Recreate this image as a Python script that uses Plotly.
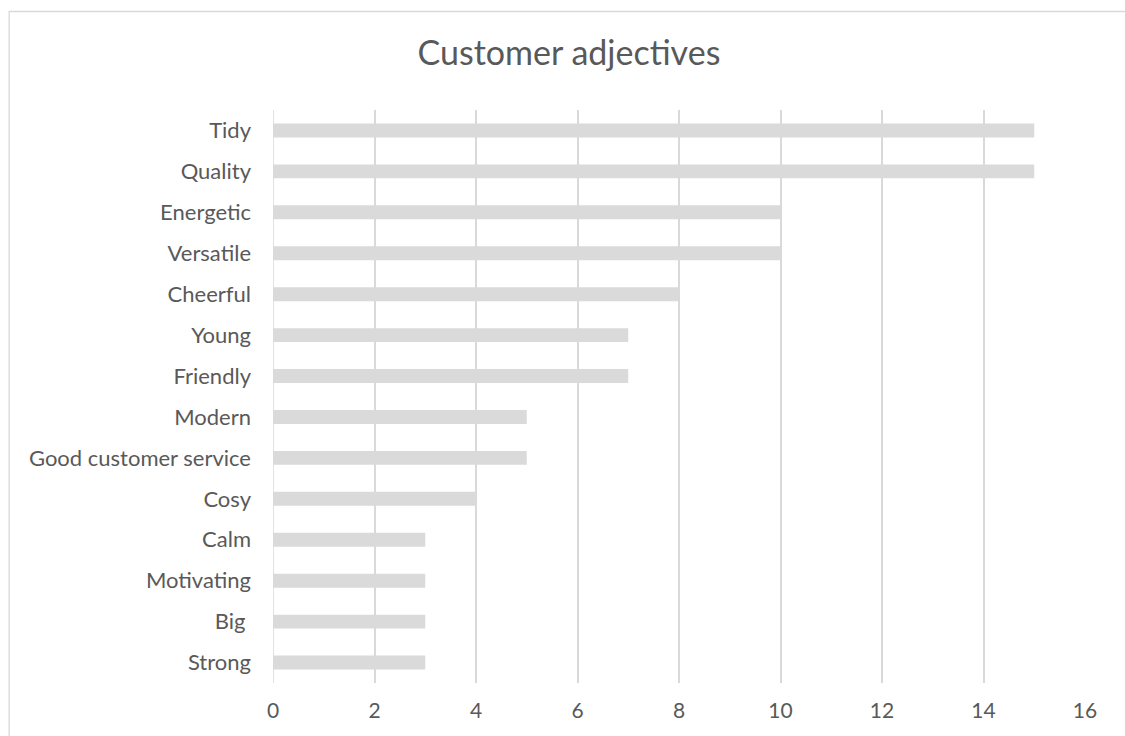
import plotly.graph_objects as go

# Survey results: how customers describe the shop
adjectives = [
    "Tidy", "Quality", "Energetic", "Versatile", "Cheerful", "Young", "Friendly",
    "Modern", "Good customer service", "Cosy", "Calm", "Motivating", "Big ", "Strong",
]
mentions = [15, 15, 10, 10, 8, 7, 7, 5, 5, 4, 3, 3, 3, 3]
x_ticks = [0, 2, 4, 6, 8, 10, 12, 14, 16]

TEXT = "#595959"
GRID = "#d9d9d9"
FONT = "Lato, 'Open Sans', sans-serif"

fig = go.Figure(
    go.Bar(
        x=mentions,
        y=adjectives,
        orientation="h",
        marker=dict(color="#dadada", line=dict(width=0)),
        width=0.34,
        hoverinfo="x+y",
    )
)

W, H = 1125, 736
ml, mr, mt, mb = 272.5, 40, 110, 53
pw, ph = W - ml - mr, H - mt - mb


def px_to_paper_x(p):
    return (p - ml) / pw


def px_to_paper_y(p):
    return (H - mb - p) / ph


fig.update_layout(
    width=W,
    height=H,
    margin=dict(l=ml, r=mr, t=mt, b=mb, pad=0),
    paper_bgcolor="white",
    plot_bgcolor="white",
    showlegend=False,
    font=dict(family=FONT, color=TEXT, size=22),
    title=dict(
        text="Customer adjectives",
        x=569 / W,
        xanchor="center",
        xref="container",
        y=1 - 53 / H,
        yanchor="middle",
        font=dict(size=34, color=TEXT, family=FONT),
    ),
    xaxis=dict(
        range=[0, 16],
        tickvals=x_ticks,
        showgrid=True,
        gridcolor=GRID,
        gridwidth=1.5,
        zeroline=False,
        showline=False,
        ticks="",
        ticklabelstandoff=13,
        tickfont=dict(size=21, color=TEXT),
        fixedrange=True,
    ),
    yaxis=dict(
        categoryorder="array",
        categoryarray=adjectives,
        autorange="reversed",
        showgrid=False,
        zeroline=False,
        showline=False,
        ticks="",
        ticklabelstandoff=21,
        tickfont=dict(size=22, color=TEXT),
        fixedrange=True,
    ),
    shapes=[
        # chart frame (runs off the right and bottom edges)
        dict(
            type="rect",
            xref="paper",
            yref="paper",
            x0=px_to_paper_x(8.5),
            x1=px_to_paper_x(W + 20),
            y0=px_to_paper_y(H + 20),
            y1=px_to_paper_y(11.5),
            line=dict(color="#d9d9d9", width=1.3),
            fillcolor="rgba(0,0,0,0)",
            layer="below",
        ),
        # left gridline at zero
        dict(
            type="line",
            xref="x",
            yref="paper",
            x0=0,
            x1=0,
            y0=0,
            y1=1,
            line=dict(color=GRID, width=1.5),
            layer="below",
        ),
    ],
)

fig.write_html("out.html")
